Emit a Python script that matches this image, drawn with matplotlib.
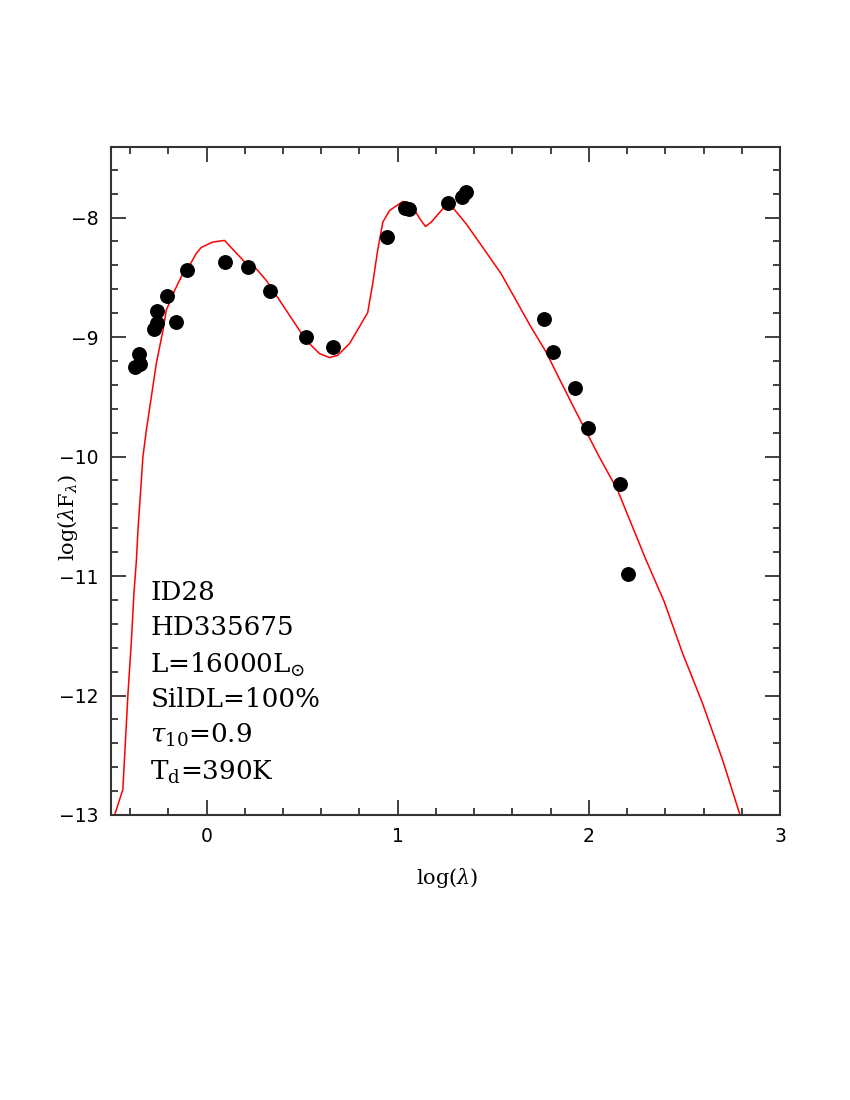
import matplotlib
matplotlib.use("Agg")
import matplotlib.pyplot as plt
from matplotlib.ticker import MultipleLocator

# Observed photometry: log(lambda), log(lambda F_lambda)
obs_logl = [-0.376, -0.350, -0.352, -0.276, -0.261, -0.261, -0.206, -0.161, -0.103,
            0.094, 0.217, 0.333, 0.522, 0.660, 0.946, 1.040, 1.061, 1.265,
            1.338, 1.359, 1.763, 1.814, 1.929, 1.993, 2.162, 2.206]
obs_logf = [-9.250, -9.230, -9.145, -8.935, -8.885, -8.782, -8.654, -8.877, -8.440,
            -8.376, -8.418, -8.612, -8.996, -9.080, -8.159, -7.919, -7.932, -7.875,
            -7.825, -7.790, -8.850, -9.123, -9.426, -9.765, -10.230, -10.982]

# DUSTY model SED
mod_logl = [-0.487, -0.455, -0.438, -0.425, -0.411, -0.394, -0.380, -0.367, -0.359,
            -0.347, -0.333, -0.315, -0.289, -0.263, -0.228, -0.211,
            -0.167, -0.124, -0.089, -0.054, -0.028, 0.031, 0.094, 0.208, 0.260,
            0.312, 0.382, 0.451, 0.521, 0.591, 0.643, 0.686, 0.748, 0.843, 0.869,
            0.895, 0.922, 0.957, 1.026, 1.070, 1.113, 1.145, 1.175, 1.253, 1.279,
            1.358, 1.444, 1.541, 1.619, 1.697, 1.776, 1.845, 1.933, 2.054, 2.150,
            2.299, 2.394, 2.490, 2.594, 2.699, 2.790]
mod_logf = [-13.03, -12.871, -12.787, -12.397, -11.979, -11.562, -11.144, -10.866, -10.615,
            -10.337, -10.002, -9.779, -9.501, -9.222, -8.944, -8.777,
            -8.610, -8.468, -8.401, -8.301, -8.251, -8.206, -8.192, -8.387, -8.429,
            -8.526, -8.693, -8.860, -9.028, -9.139, -9.172, -9.153, -9.055, -8.796, -8.554,
            -8.276, -8.039, -7.942, -7.866, -7.886, -8.004, -8.075, -8.039, -7.896, -7.900,
            -8.053, -8.248, -8.470, -8.693, -8.916, -9.125, -9.348, -9.627, -10.002, -10.281,
            -10.865, -11.214, -11.645, -12.063, -12.536, -12.996]

labels = ["ID28", "HD335675", r"L=16000L$_{\odot}$", "SilDL=100%",
          r"$\tau_{10}$=0.9", r"T$_{\rm d}$=390K"]

plt.rcParams['mathtext.fontset'] = 'dejavuserif'

fig = plt.figure(figsize=(8.5, 11), dpi=100)
ax = fig.add_axes([111/850, 1-815/1100, (780-111)/850, (815-147)/1100])

ax.plot(mod_logl, mod_logf, color='#ff0000', lw=1.1, zorder=2, clip_on=True)
ax.plot(obs_logl, obs_logf, 'o', color='black', ms=9.7, zorder=3, clip_on=False)

ax.set_xlim(-0.5, 3)
ax.set_ylim(-13, -7.41)

ax.xaxis.set_major_locator(MultipleLocator(1))
ax.xaxis.set_minor_locator(MultipleLocator(0.2))
ax.yaxis.set_major_locator(MultipleLocator(1))
ax.yaxis.set_minor_locator(MultipleLocator(0.2))
ax.tick_params(which='both', direction='in', top=True, right=True, width=1.3,
               color='#333333')
ax.tick_params(which='major', length=10.5, labelsize=13.5, pad=9)
ax.tick_params(which='minor', length=5)
for lab in ax.get_xticklabels() + ax.get_yticklabels():
    lab.set_family('DejaVu Sans')
for s in ax.spines.values():
    s.set_linewidth(1.5)
    s.set_color('#333333')

ax.set_xlabel(r"log($\lambda$)", family='DejaVu Serif', fontsize=15)
ax.set_ylabel(r"log($\lambda$F$_{\lambda}$)", family='DejaVu Serif', fontsize=15)
ax.xaxis.set_label_coords((447-111)/669, (815-866)/668)
ax.yaxis.set_label_coords((80-111)/669, (815-518)/668)

base_y = [-11.20, -11.49, -11.807, -12.10, -12.397, -12.703]
for t, yb in zip(labels, base_y):
    ax.text(-0.294, yb, t, family='DejaVu Serif', fontsize=18.8, va='baseline', ha='left')

fig.savefig("out.png", dpi=100)
